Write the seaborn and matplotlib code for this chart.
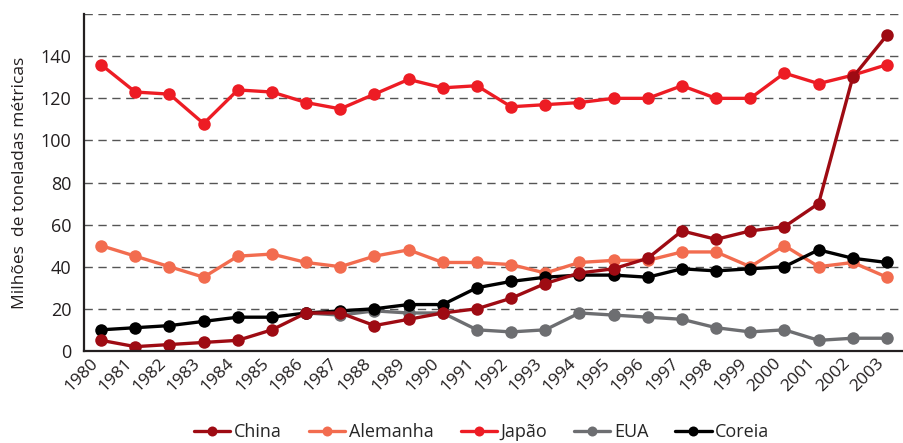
import numpy as np
import pandas as pd
import matplotlib
matplotlib.use("Agg")
import matplotlib.pyplot as plt
import seaborn as sns

# dados (milhões de toneladas métricas)
anos = list(range(1980, 2004))
china = [5, 2, 3, 4, 5, 10, 18, 18, 12, 15, 18, 20, 25, 32, 37, 39, 44, 57, 53, 57, 59, 70, 130, 150]
alemanha = [50, 45, 40, 35, 45, 46, 42, 40, 45, 48, 42, 42, 41, 37, 42, 43, 43, 47, 47, 40, 50, 40, 42, 35]
japao = [136, 123, 122, 108, 124, 123, 118, 115, 122, 129, 125, 126, 116, 117, 118, 120, 120, 126, 120, 120, 132, 127, 131, 136]
anos_eua = list(range(1986, 2004))
eua = [18, 17, 19, 18, 18, 10, 9, 10, 18, 17, 16, 15, 11, 9, 10, 5, 6, 6]
coreia = [10, 11, 12, 14, 16, 16, 18, 19, 20, 22, 22, 30, 33, 35, 36, 36, 35, 39, 38, 39, 40, 48, 44, 42]

cores = {
    "China": "#9e0b13",
    "Alemanha": "#f26c4f",
    "Japão": "#ed1c24",
    "EUA": "#6d6e71",
    "Coreia": "#000000",
}

sns.set_style("white")
plt.rcParams["font.family"] = ["Open Sans", "DejaVu Sans"]

fig = plt.figure(figsize=(9.04, 4.43), dpi=100)
ax = fig.add_axes([0.093, 0.208, 0.907, 0.760])

# ordem de desenho (China por cima)
series = [
    ("EUA", anos_eua, eua),
    ("Alemanha", anos, alemanha),
    ("Coreia", anos, coreia),
    ("Japão", anos, japao),
    ("China", anos, china),
]
for nome, xs, ys in series:
    sns.lineplot(x=xs, y=ys, ax=ax, color=cores[nome], marker="o", markersize=9,
                 markeredgewidth=0, linewidth=2.4, label=nome)

for y in range(20, 180, 20):
    ax.axhline(y, color="#555555", lw=1, ls=(0, (6, 4)), zorder=0)

ax.set_ylim(0, 160)
ax.set_xlim(1979.52, 2003.22)
ax.set_yticks(range(0, 160, 20))
ax.set_xticks(anos)
ax.set_xticklabels([str(a) for a in anos], rotation=45, ha="right", va="top")
ax.set_xticks(np.arange(1979.5, 2004, 1), minor=True)
ax.tick_params(axis="x", which="major", length=0, pad=3, labelsize=12.5, colors="#231f20")
ax.tick_params(axis="x", which="minor", length=6, width=1.2, direction="out", color="#231f20")
ax.tick_params(axis="y", length=6, width=1.2, direction="out", labelsize=13, colors="#231f20", pad=3)
ax.set_ylabel("Milhões  de toneladas métricas", fontsize=12.5, color="#231f20", labelpad=9)

sns.despine(ax=ax)
for s in ["left", "bottom"]:
    ax.spines[s].set_linewidth(1.6)
    ax.spines[s].set_color("#231f20")

handles, labels = ax.get_legend_handles_labels()
ordem = ["China", "Alemanha", "Japão", "EUA", "Coreia"]
hmap = dict(zip(labels, handles))
ax.legend([hmap[n] for n in ordem], ordem, loc="lower center", bbox_to_anchor=(0.533, 0.0),
          bbox_transform=fig.transFigure, ncol=5, frameon=False, fontsize=13,
          handlelength=2.0, handletextpad=0.2, columnspacing=1.5, markerscale=0.8,
          borderpad=0.0, borderaxespad=0.1)

fig.savefig("out.png", dpi=100)
